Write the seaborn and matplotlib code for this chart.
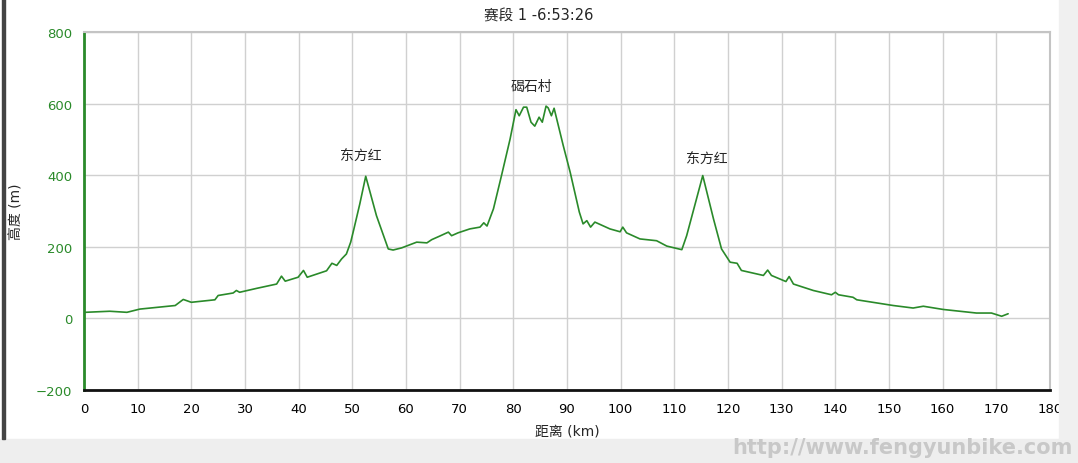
import pandas as pd
import numpy as np
import matplotlib.pyplot as plt
import seaborn as sns

# elevation profile (km, m)
distance_km = [0.2, 4.8, 8.0, 10.4, 17.0, 18.5, 20.0, 24.4, 25.0, 27.8, 28.4, 29.0,
               32.2, 35.9, 36.8, 37.5, 39.9, 40.9, 41.6, 45.2, 46.2, 47.1, 48.0,
               48.9, 49.7, 50.3, 51.4, 52.5, 54.5, 56.7, 57.6, 59.2, 62.0, 63.9,
               64.8, 66.3, 67.9, 68.5, 69.7, 71.9, 73.8, 74.5, 75.1, 76.3, 77.8,
               79.4, 80.5, 81.1, 81.9, 82.5, 83.3, 84.0, 84.8, 85.4, 86.1, 86.5,
               87.1, 87.6, 89.3, 90.6, 92.3, 93.0, 93.7, 94.4, 95.2, 98.0, 99.9,
               100.4, 101.1, 103.6, 106.7, 108.6, 111.4, 112.3, 115.3, 117.3,
               118.8, 120.4, 121.7, 122.5, 126.6, 127.4, 128.1, 130.8, 131.4,
               132.2, 135.9, 139.3, 140.0, 140.6, 143.3, 144.0, 150.8, 154.5,
               156.4, 160.1, 166.3, 169.1, 171.0, 172.2]
elevation_m = [17, 20, 17, 26, 36, 53, 45, 52, 64, 71, 78, 73,
               84, 96, 118, 104, 115, 134, 115, 133, 154, 148, 166,
               180, 213, 250, 320, 397, 287, 194, 191, 197, 213, 211,
               220, 230, 241, 231, 239, 250, 255, 267, 258, 306, 399,
               501, 583, 566, 590, 590, 548, 537, 562, 548, 593, 588,
               566, 587, 483, 408, 297, 264, 273, 255, 269, 250, 242,
               255, 239, 222, 217, 202, 192, 231, 399, 278,
               194, 157, 154, 134, 120, 135, 120, 103, 117,
               96, 78, 66, 73, 66, 59, 52, 36, 29,
               34, 25, 15, 15, 6, 13]

peak_names = ['东方红', '碣石村', '东方红']
peak_km = [51.5, 83.3, 116.0]
peak_label_m = [453, 650, 447]

profile = pd.DataFrame({'km': distance_km, 'elev': elevation_m})

sns.set_style('white')
# latin text in a Verdana-like face, CJK falls through to Noto
plt.rcParams['font.family'] = ['DejaVu Sans', 'Noto Sans CJK SC']

green = '#2a8a2a'
fig = plt.figure(figsize=(10.78, 4.64), dpi=100)
ax = fig.add_axes([0.0779, 0.1573, 0.8961, 0.7716])

sns.lineplot(data=profile, x='km', y='elev', ax=ax, color=green, linewidth=1.2)

ax.set_xlim(0, 180)
ax.set_ylim(-200, 800)
ax.set_xticks(np.arange(0, 181, 10))
ax.set_yticks(np.arange(-200, 801, 200))
ax.grid(True, color='#d0d0d0', linewidth=1)
ax.set_axisbelow(True)

ax.tick_params(axis='y', colors=green, labelsize=9.5, length=5, width=2, direction='out')
ax.tick_params(axis='x', colors='black', labelsize=9.5, length=5, width=1.5, direction='out')
ax.spines['left'].set_color(green)
ax.spines['left'].set_linewidth(2)
ax.spines['bottom'].set_color('#111111')
ax.spines['bottom'].set_linewidth(2)
for s in ['top', 'right']:
    ax.spines[s].set_color('#c4c4c4')
    ax.spines[s].set_linewidth(1.5)

ax.set_xlabel('距离 (km)', fontsize=10, labelpad=6)
ax.set_ylabel('高度 (m)', fontsize=10, labelpad=9)
fig.text(0.5, 1 - 16 / 464, '赛段 1 -6:53:26', ha='center', va='center', fontsize=10.5)

for name, x, y in zip(peak_names, peak_km, peak_label_m):
    ax.text(x, y, name, ha='center', va='center', fontsize=10)

# window chrome: scroll bars, left border and watermark
fig.patches.append(plt.Rectangle((0, 0), 1, 0.052, transform=fig.transFigure,
                                 color='#eeeeee', zorder=0))
fig.patches.append(plt.Rectangle((0.982, 0.052), 0.018, 0.948, transform=fig.transFigure,
                                 color='#f0f0f0', zorder=0))
fig.patches.append(plt.Rectangle((0.002, 0.052), 0.003, 0.948, transform=fig.transFigure,
                                 color='#444444', zorder=0))
fig.text(0.995, 0.012, 'http://www.fengyunbike.com', ha='right', va='bottom',
         fontsize=15, color='#c8c8c8', fontweight='bold')

fig.savefig('out.png', dpi=100)
